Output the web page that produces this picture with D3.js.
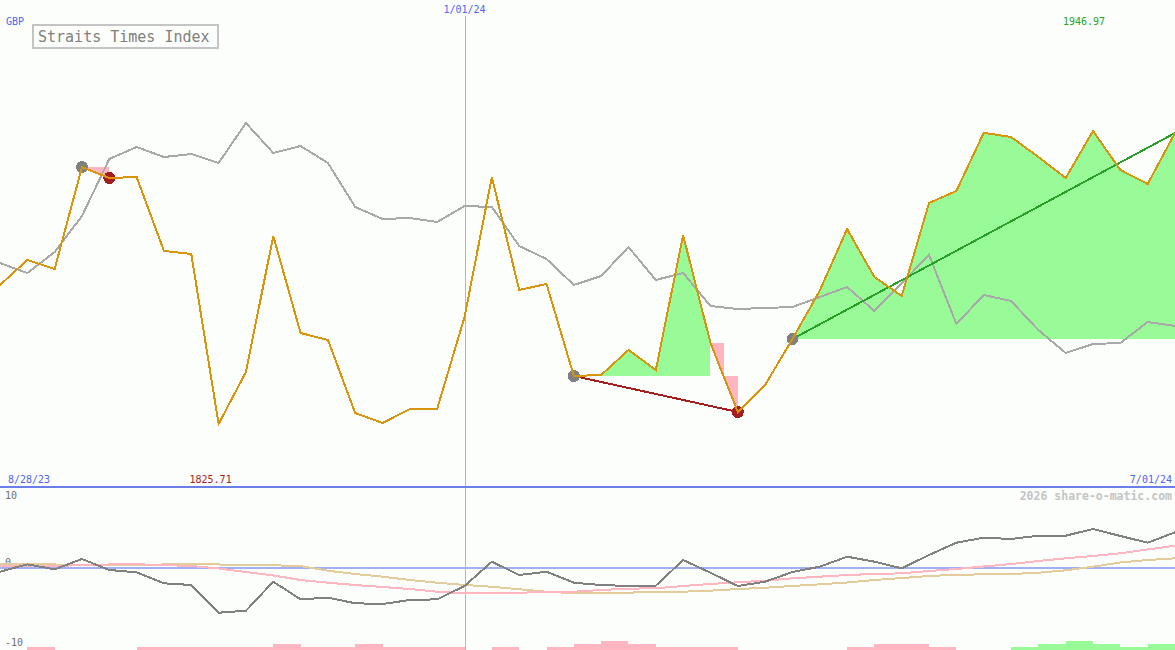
<!DOCTYPE html>
<html>
<head>
<meta charset="utf-8">
<script src="https://cdn.jsdelivr.net/npm/d3@7"></script>
<style>
  body { margin: 0; background: #fbfefb; }
  svg { display: block; font-family: "DejaVu Sans Mono", monospace; }
  .crisp { shape-rendering: crispEdges; }
</style>
</head>
<body>
<div id="chart"></div>
<script>
// weekly closes, Straits Times Index in GBP
var price = [1883.24, 1893.58, 1889.86, 1932.07, 1927.52, 1927.93, 1897.31, 1896.07, 1825.71, 1847.23,
             1903.51, 1863.37, 1860.47, 1830.26, 1826.12, 1831.92, 1832.05, 1869.99, 1927.93, 1881.17,
             1883.65, 1845.58, 1845.99, 1856.34, 1848.06, 1903.80, 1859.23, 1830.68, 1841.85, 1860.89,
             1880.90, 1906.41, 1886.55, 1878.68, 1917.17, 1922.14, 1946.20, 1944.49, 1936.21, 1927.52,
             1946.97, 1930.83, 1925.04, 1946.14];

// comparison index, rebased onto the same axis
var compare = [1892.34, 1888.20, 1896.89, 1911.79, 1935.38, 1940.35, 1936.21, 1937.45, 1933.73, 1950.28,
               1937.87, 1940.76, 1933.73, 1915.52, 1910.55, 1910.96, 1909.31, 1915.93, 1915.52, 1899.38,
               1894.00, 1883.24, 1886.96, 1898.96, 1885.31, 1888.20, 1874.55, 1873.30, 1873.72, 1874.13,
               1878.27, 1882.41, 1872.48, 1884.06, 1895.65, 1867.10, 1879.10, 1876.61, 1864.61, 1855.09,
               1858.82, 1859.23, 1867.92, 1866.27];

// lower panel oscillator and its two averages
var osc = [-0.6, 0.5, -0.24, 1.3, -0.34, -0.69, -2.33, -2.58, -6.72, -6.42,
           -2.09, -4.72, -4.48, -5.31, -5.42, -4.82, -4.72, -2.73, 0.9, -1.09,
           -0.6, -2.24, -2.58, -2.73, -2.69, 1.15, -0.75, -2.73, -2.09, -0.64,
           0.15, 1.64, 0.9, -0.09, 1.9, 3.73, 4.48, 4.28, 4.78, 4.78,
           5.78, 4.73, 3.73, 5.28];
var oscFast = [0.25, 0.25, 0.25, 0.40, 0.48, 0.51, 0.40, 0.25, -0.12, -0.64,
               -1.16, -1.84, -2.24, -2.58, -2.88, -3.18, -3.58, -3.82, -3.82, -3.73,
               -3.63, -3.58, -3.33, -3.13, -3.07, -2.73, -2.43, -2.18, -1.94, -1.58,
               -1.34, -1.09, -0.94, -0.84, -0.49, -0.19, 0.18, 0.55, 1.00, 1.40,
               1.75, 2.15, 2.72, 3.28];
var oscSlow = [0.51, 0.51, 0.48, 0.40, 0.36, 0.40, 0.48, 0.51, 0.48, 0.40,
               0.36, 0.25, -0.45, -0.94, -1.34, -1.84, -2.24, -2.58, -2.84, -3.22,
               -3.58, -3.82, -3.73, -3.73, -3.58, -3.58, -3.43, -3.18, -2.99, -2.73,
               -2.48, -2.21, -1.84, -1.54, -1.24, -1.06, -0.99, -0.94, -0.75, -0.39,
               0.15, 0.78, 1.15, 1.40];

// strength bars between consecutive weeks (negative = pink, positive = green)
var bars = [0, -1, 0, 0, 0, -1, -1, -1, -1, -1,
            -2, -1, -1, -2, -1, -1, -1, 0, -1, 0,
            -1, -2, -3, -2, -1, -1, -1, 0, 0, 0,
            0, -1, -2, -2, -1, 0, 0, 1, 2, 3,
            2, 1, 2];

// signals: drop from high point to low point, rise from start to end
var dropFrom = [3, 21];
var dropTo = [4, 27];
var riseFrom = 29;
var riseTo = 43;

var dateLabels = ["8/28/23", "1/01/24", "7/01/24"];
var markerIndex = 17;
var oscTicks = [10, 0, -10];

var width = 1175, height = 650;
var n = price.length;

var svg = d3.select("#chart").append("svg")
    .attr("width", width)
    .attr("height", height);

var x = d3.scaleLinear().domain([0, n - 1]).range([0, width]);
var y = d3.scaleLinear().domain(d3.extent(price)).range([424, 131]);
var yOsc = d3.scaleLinear().domain([-10, 10]).range([634.7, 500.7]);
var barH = d3.scaleLinear().domain([0, 3]).range([0, 9]);

var line = d3.line().x(function(d, i) { return x(i); }).y(function(d) { return y(d); });

// ---- fills behind the price line ----
function riseArea(a, b) {
    var base = price[a];
    var idx = d3.range(a, b + 1);
    return d3.area()
        .x(function(i) { return x(i); })
        .y0(y(base))
        .y1(function(i) { return y(price[i]); })(idx);
}

// green where price held above the level the drop started from
svg.append("path").attr("class", "crisp")
    .attr("d", riseArea(dropFrom[1], dropTo[1] - 1))
    .attr("fill", "#98fb98");
svg.append("path").attr("class", "crisp")
    .attr("d", riseArea(riseFrom, riseTo))
    .attr("fill", "#98fb98");

// pink on the last falling leg of each drop
dropFrom.forEach(function(a, k) {
    var b = dropTo[k];
    var base = y(price[a]);
    var x0 = x(b - 1), y0 = y(price[b - 1]);
    var x1 = x(b), y1 = y(price[b]);
    var xm = (y1 === y0) ? x0 : x0 + (x1 - x0) * (base - y0) / (y1 - y0);
    var pts = [[x0, y0], [xm, y0], [xm, base], [x1, base], [x1, y1]];
    svg.append("polygon").attr("class", "crisp")
        .attr("points", pts.map(function(p) { return p.join(","); }).join(" "))
        .attr("fill", "#ffb6c1");
});

// ---- marker line for the new year ----
svg.append("line").attr("class", "crisp")
    .attr("x1", x(markerIndex) + 0.5).attr("x2", x(markerIndex) + 0.5)
    .attr("y1", 16).attr("y2", height)
    .attr("stroke", "#a8b4f0").attr("stroke-width", 1);

// ---- comparison line ----
svg.append("path").attr("class", "crisp")
    .attr("d", line(compare))
    .attr("fill", "none")
    .attr("stroke", "#a8a8a8")
    .attr("stroke-width", 2);

// ---- signal lines ----
svg.append("line").attr("class", "crisp")
    .attr("x1", x(dropFrom[1])).attr("y1", y(price[dropFrom[1]]))
    .attr("x2", x(dropTo[1])).attr("y2", y(price[dropTo[1]]))
    .attr("stroke", "#a51d1d").attr("stroke-width", 2);

svg.append("line").attr("class", "crisp")
    .attr("x1", x(riseFrom)).attr("y1", y(price[riseFrom]))
    .attr("x2", x(riseTo)).attr("y2", y(price[riseTo]))
    .attr("stroke", "#28a028").attr("stroke-width", 2);

// ---- signal dots ----
var starts = dropFrom.concat([riseFrom]);
svg.selectAll("circle.start")
    .data(starts)
    .enter()
    .append("circle")
    .attr("class", "start crisp")
    .attr("cx", function(i) { return x(i); })
    .attr("cy", function(i) { return y(price[i]); })
    .attr("r", 6)
    .attr("fill", "#808080");

svg.selectAll("circle.end")
    .data(dropTo)
    .enter()
    .append("circle")
    .attr("class", "end crisp")
    .attr("cx", function(i) { return x(i); })
    .attr("cy", function(i) { return y(price[i]); })
    .attr("r", 6)
    .attr("fill", "#a51d1d");

// ---- price line ----
svg.append("path").attr("class", "crisp")
    .attr("d", line(price))
    .attr("fill", "none")
    .attr("stroke", "#d8940a")
    .attr("stroke-width", 2);

// ---- title and labels ----
svg.append("rect").attr("class", "crisp")
    .attr("x", 33).attr("y", 25)
    .attr("width", 185).attr("height", 23)
    .attr("fill", "none")
    .attr("stroke", "#c4c4c4")
    .attr("stroke-width", 2);

svg.append("text")
    .attr("x", 38).attr("y", 42)
    .attr("font-size", 15)
    .attr("fill", "#808080")
    .text("Straits Times Index");

svg.append("text")
    .attr("x", 6).attr("y", 25)
    .attr("font-size", 10)
    .attr("fill", "#5264f0")
    .text("GBP");

svg.append("text")
    .attr("x", x(markerIndex)).attr("y", 13)
    .attr("text-anchor", "middle")
    .attr("font-size", 10)
    .attr("fill", "#5264f0")
    .text(dateLabels[1]);

var iMax = d3.maxIndex(price), iMin = d3.minIndex(price);
svg.append("text")
    .attr("x", x(iMax) - 9).attr("y", 25)
    .attr("text-anchor", "middle")
    .attr("font-size", 10)
    .attr("fill", "#28a028")
    .text(d3.max(price).toFixed(2));

svg.append("text")
    .attr("x", x(iMin) - 8).attr("y", 483)
    .attr("text-anchor", "middle")
    .attr("font-size", 10)
    .attr("fill", "#a51d1d")
    .text(d3.min(price).toFixed(2));

svg.append("text")
    .attr("x", 8).attr("y", 483)
    .attr("font-size", 10)
    .attr("fill", "#5264f0")
    .text(dateLabels[0]);

svg.append("text")
    .attr("x", width - 3).attr("y", 483)
    .attr("text-anchor", "end")
    .attr("font-size", 10)
    .attr("fill", "#5264f0")
    .text(dateLabels[2]);

// ---- panel divider ----
svg.append("rect").attr("class", "crisp")
    .attr("x", 0).attr("y", 486)
    .attr("width", width).attr("height", 2)
    .attr("fill", "#6c7ee8");

svg.append("text")
    .attr("x", width - 3).attr("y", 500)
    .attr("text-anchor", "end")
    .attr("font-size", 11.5)
    .attr("font-weight", "bold")
    .attr("fill", "#c4c4c4")
    .text("2026 share-o-matic.com");

// ---- lower panel ----
svg.append("rect").attr("class", "crisp")
    .attr("x", 0).attr("y", Math.round(yOsc(0)) - 1)
    .attr("width", width).attr("height", 2)
    .attr("fill", "#a0b0f0");

// tick labels sit just above their level; the bottom one is pushed to the panel floor
svg.selectAll("text.tick")
    .data(oscTicks)
    .enter()
    .append("text")
    .attr("class", "tick")
    .attr("x", 5)
    .attr("y", function(d) { return d === -10 ? 646 : yOsc(d) - 1.5; })
    .attr("font-size", 10)
    .attr("fill", "#707070")
    .text(function(d) { return d; });

svg.selectAll("rect.bar")
    .data(bars)
    .enter()
    .append("rect")
    .attr("class", "bar crisp")
    .attr("x", function(d, i) { return x(i); })
    .attr("width", function(d, i) { return x(i + 1) - x(i); })
    .attr("y", function(d) { return height - barH(Math.abs(d)); })
    .attr("height", function(d) { return barH(Math.abs(d)); })
    .attr("fill", function(d) { return d < 0 ? "#ffb6c1" : "#98fb98"; });

var oscLine = d3.line().x(function(d, i) { return x(i); }).y(function(d) { return yOsc(d); });

svg.append("path").attr("class", "crisp")
    .attr("d", oscLine(oscSlow))
    .attr("fill", "none")
    .attr("stroke", "#e2cc9c")
    .attr("stroke-width", 2);

svg.append("path").attr("class", "crisp")
    .attr("d", oscLine(oscFast))
    .attr("fill", "none")
    .attr("stroke", "#ffb6c1")
    .attr("stroke-width", 2);

svg.append("path").attr("class", "crisp")
    .attr("d", oscLine(osc))
    .attr("fill", "none")
    .attr("stroke", "#808080")
    .attr("stroke-width", 2);
</script>
</body>
</html>
